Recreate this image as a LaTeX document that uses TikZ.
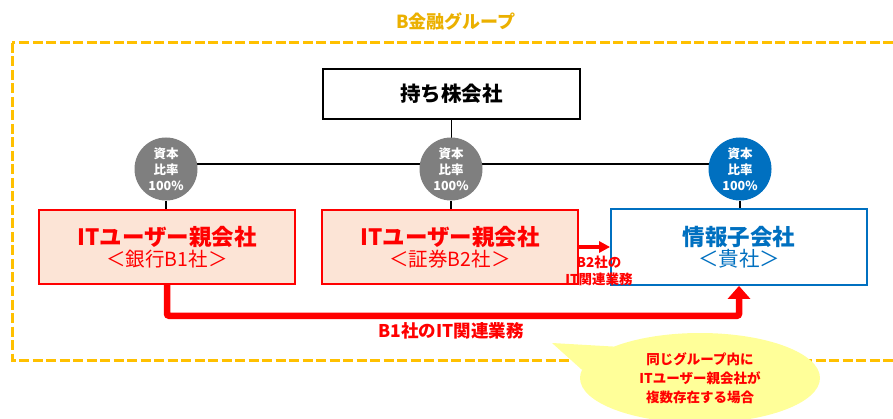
\documentclass[tikz,border=0pt]{standalone}
\usepackage{fontspec}
\setmainfont{Noto Sans CJK JP}
\usetikzlibrary{arrows.meta,shapes.geometric,backgrounds}
\definecolor{grpor}{HTML}{FFC000}
\definecolor{grptxt}{HTML}{EBB000}
\definecolor{peach}{HTML}{FCE4D6}
\definecolor{myblue}{HTML}{0070C0}
\definecolor{mygray}{HTML}{7F7F7F}
\definecolor{myred}{HTML}{FF0000}
\definecolor{callyel}{HTML}{FFFF99}
\tikzset{
  holdbox/.style={draw=black, line width=1.5pt, fill=white, minimum width=257pt, minimum height=50pt, inner sep=0pt, font=\fontsize{20.5}{24}\selectfont\bfseries},
  userbox/.style={draw=myred, line width=1.5pt, fill=peach, minimum width=256pt, minimum height=74pt, inner sep=0pt, align=center, text=myred},
  subbox/.style={draw=myblue, line width=1.8pt, fill=white, minimum width=256pt, minimum height=76pt, inner sep=0pt, align=center, text=myblue},
  ratio/.style={circle, minimum size=63pt, inner sep=0pt, text=white, align=center, font=\fontsize{12.5}{16}\selectfont\bfseries},
  conn/.style={draw=black, line width=1.4pt},
  redarrow/.style={draw=myred, line width=6.5pt, rounded corners=2pt, -{Triangle[width=22pt,length=13pt]}},
  smallarrow/.style={draw=myred, line width=3.3pt, -{Triangle[width=11pt,length=11pt]}},
  redlabel/.style={text=myred, align=center},
}
\begin{document}
\begin{tikzpicture}[x=1pt,y=-1pt]
\useasboundingbox (0,0) rectangle (893,419);
\clip (0,0) rectangle (893,419);
% group frame
\draw[grpor, line width=3pt, dash pattern=on 10pt off 3.5pt] (12,43) rectangle (905,360);
\node[text=grptxt, font=\fontsize{18}{22}\selectfont\bfseries] (title) at (456,22) {B金融グループ};
% holding company
\node[holdbox] (hold) at (451.5,94) {持ち株会社};
% ratio circles
\node[ratio, fill=mygray] (c1) at (166,169) {資本\\比率\\100\%};
\node[ratio, fill=mygray] (c2) at (451,169) {資本\\比率\\100\%};
\node[ratio, fill=myblue] (c3) at (740,169) {資本\\比率\\100\%};
% boxes
\node[userbox] (b1) at (167,247) {{\fontsize{22.5}{27}\selectfont\bfseries ITユーザー親会社}\\[1pt]{\fontsize{19.5}{24}\selectfont ＜銀行B1社＞}};
\node[userbox] (b2) at (450,247) {{\fontsize{22.5}{27}\selectfont\bfseries ITユーザー親会社}\\[1pt]{\fontsize{19.5}{24}\selectfont ＜証券B2社＞}};
\node[subbox] (b3) at (739,247) {{\fontsize{22.5}{27}\selectfont\bfseries 情報子会社}\\[1pt]{\fontsize{20.5}{25}\selectfont ＜貴社＞}};
\coordinate (hj) at (451.5,164);
\begin{pgfonlayer}{background}
  \draw[conn] (hold.south) -- (hj);
  \draw[conn] ([yshift=5pt]c1.center) -- ([yshift=5pt]c3.center);
  \draw[conn] (c1.south) -- (c1.south |- b1.north);
  \draw[conn] (c2.south) -- (c2.south |- b2.north);
  \draw[conn] (c3.south) -- (c3.south |- b3.north);
\end{pgfonlayer}
% arrows
\draw[smallarrow] (b2.east) -- (b3.west);
\node[redlabel, font=\fontsize{13.5}{17}\selectfont\bfseries] (l2) at (599,271) {B2社の\\IT関連業務};
\draw[redarrow] (b1.south) -- ++(0,31) -| (b3.south);
\node[redlabel, font=\fontsize{17.5}{20}\selectfont\bfseries] (l1) at (451,331) {B1社のIT関連業務};
% callout
\node[ellipse, fill=callyel, minimum width=240pt, minimum height=90pt, inner sep=0pt, text=myred, align=center, font=\fontsize{13.5}{19}\selectfont\bfseries] (call) at (700,378) {同じグループ内に\\ITユーザー親会社が\\複数存在する場合};
\coordinate (tip) at (552,343);
\fill[callyel] (tip) -- (call.160) -- (call.176) -- cycle;
\end{tikzpicture}
\end{document}
